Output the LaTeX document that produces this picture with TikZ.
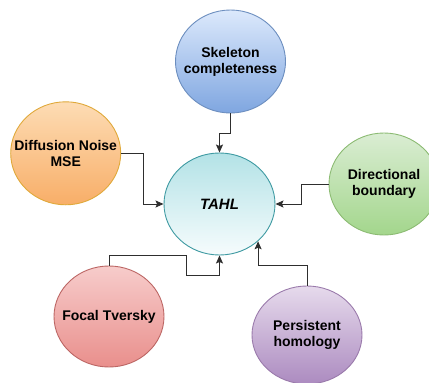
\documentclass[tikz,border=0pt]{standalone}
\usepackage{fontspec}
\setmainfont{Liberation Sans}
\usetikzlibrary{shapes.geometric,arrows.meta}

\definecolor{blueTop}{HTML}{DCE9FC}
\definecolor{blueBot}{HTML}{7FA6E0}
\definecolor{blueLine}{HTML}{6C8EBF}
\definecolor{orangeTop}{HTML}{FDDCB4}
\definecolor{orangeBot}{HTML}{F8AE68}
\definecolor{orangeLine}{HTML}{E0A93A}
\definecolor{greenTop}{HTML}{DAEDD3}
\definecolor{greenBot}{HTML}{A3D68C}
\definecolor{greenLine}{HTML}{8CBB73}
\definecolor{redTop}{HTML}{F7CCCB}
\definecolor{redBot}{HTML}{E98F8C}
\definecolor{redLine}{HTML}{BC6664}
\definecolor{purpleTop}{HTML}{E6DAEC}
\definecolor{purpleBot}{HTML}{AC8BC0}
\definecolor{purpleLine}{HTML}{9A7AAB}
\definecolor{tealTop}{HTML}{B3E2E6}
\definecolor{tealBot}{HTML}{F6FCFD}
\definecolor{tealLine}{HTML}{3E9AA2}
\definecolor{wire}{HTML}{2E2E2E}

\tikzset{
  x=1pt, y=1pt,
  % the ellipse keeps its own size; its caption is a centred label
  topic/.style={ellipse, inner sep=0pt, line width=0.9pt,
    minimum width=110pt, minimum height=102pt,
    shading=axis, shading angle=0,
    label={[align=center, font=\bfseries\fontsize{14}{16}\selectfont]center:#1}},
  hub/.style={ellipse, inner sep=0pt, line width=0.9pt,
    minimum width=111pt, minimum height=102pt,
    shading=axis, shading angle=0,
    label={[font=\bfseries\itshape\fontsize{15}{17}\selectfont]center:#1}},
  wirearrow/.style={draw=wire, line width=1pt,
    -{Stealth[length=8pt,width=7pt,inset=1.5pt]}}
}

\begin{document}
\begin{tikzpicture}
\useasboundingbox (0,0) rectangle (429,-383);
\clip (0,0) rectangle (429,-383);

% loss components around the central node
\node[topic={Skeleton\\completeness}, draw=blueLine, top color=blueTop,
      bottom color=blueBot, minimum height=103pt] (skel) at (230.5,-61.5) {};
\node[topic={Diffusion Noise\\MSE}, draw=orangeLine, top color=orangeTop,
      bottom color=orangeBot, minimum height=103pt] (diff) at (65.7,-153.3) {};
\node[topic={Directional\\boundary}, draw=greenLine, top color=greenTop,
      bottom color=greenBot] (dir) at (384,-184) {};
\node[topic={Focal Tversky}, draw=redLine, top color=redTop,
      bottom color=redBot, minimum height=101pt] (focal) at (109,-316.5) {};
\node[topic={Persistent\\homology}, draw=purpleLine, top color=purpleTop,
      bottom color=purpleBot, minimum height=98pt] (pers) at (307,-335) {};

% combined loss
\node[hub={TAHL}, draw=tealLine, top color=tealTop, bottom color=tealBot]
      (tahl) at (219.5,-204) {};

% connectors
\draw[wirearrow] (skel.south) -- ++(0,-20) -| (tahl.north);
\draw[wirearrow] (diff.east) -- ++(22,0) |- (tahl.west);
\draw[wirearrow] (dir.west) -- ++(-27.3,0) |- (tahl.east);
\draw[wirearrow] (focal.north) -- ++(0,10.3) -| ++(77,-20.3) -| (tahl.south);
\draw[wirearrow] (pers.north) -- ++(0,20) -| (tahl.-44);
\end{tikzpicture}
\end{document}
